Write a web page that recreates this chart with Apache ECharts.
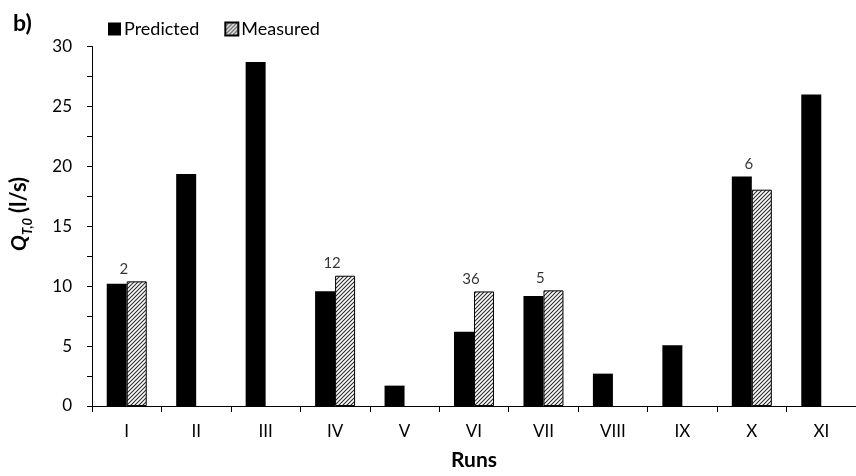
<!DOCTYPE html>
<html>
<head>
<meta charset="utf-8">
<script src="https://cdn.jsdelivr.net/npm/echarts@6/dist/echarts.min.js"></script>
<style>
html,body{margin:0;padding:0;background:#fff;}
#chart{width:856px;height:476px;}
</style>
</head>
<body>
<div id="chart"></div>
<script>
var categories = ['I','II','III','IV','V','VI','VII','VIII','IX','X','XI'];
var predicted = [10.2, 19.35, 28.7, 9.57, 1.7, 6.2, 9.18, 2.7, 5.07, 19.15, 26.0];
var measured = [10.4, null, null, 10.87, null, 9.56, 9.65, null, null, 18.05, null];
var annotations = ['2', '', '', '12', '', '36', '5', '', '', '6', ''];
var yTicks = [0, 5, 10, 15, 20, 25, 30];

var FONT = 'Lato, "Open Sans", sans-serif';

function hatch() {
  var s = 4;
  var c = document.createElement('canvas');
  c.width = s; c.height = s;
  var g = c.getContext('2d');
  g.fillStyle = '#ffffff';
  g.fillRect(0, 0, s, s);
  g.strokeStyle = '#2e2e2e';
  g.lineWidth = 1.15;
  g.beginPath();
  g.moveTo(0, s); g.lineTo(s, 0);
  g.moveTo(-1, 1); g.lineTo(1, -1);
  g.moveTo(s - 1, s + 1); g.lineTo(s + 1, s - 1);
  g.stroke();
  return c;
}

var labelPoints = annotations.map(function (t, i) {
  if (!t) return null;
  var m = measured[i] == null ? predicted[i] : Math.max(predicted[i], measured[i]);
  return [categories[i], m];
});

var chart = echarts.init(document.getElementById('chart'), null, {renderer: 'canvas'});
chart.setOption({
  animation: false,
  textStyle: {fontFamily: FONT, color: '#000'},
  grid: {left: 92, right: -6, top: 46.5, bottom: 69.5, containLabel: false},
  legend: {
    data: ['Predicted', 'Measured'],
    left: 103, top: 15,
    icon: 'rect',
    itemWidth: 13, itemHeight: 13, itemGap: 25,
    textStyle: {fontFamily: FONT, fontSize: 18, color: '#000', padding: [0, 0, 0, -2]},
    selectedMode: false
  },
  xAxis: {
    type: 'category',
    data: categories,
    boundaryGap: true,
    name: 'Runs',
    nameLocation: 'middle',
    nameGap: 44,
    nameTextStyle: {fontFamily: FONT, fontSize: 21, fontWeight: 'bold', color: '#000'},
    axisLine: {lineStyle: {color: '#000', width: 1}},
    axisTick: {show: true, length: 6, interval: 0, lineStyle: {color: '#000'}},
    axisLabel: {fontFamily: FONT, fontSize: 17, color: '#000', margin: 17, interval: 0}
  },
  yAxis: {
    type: 'value',
    min: yTicks[0], max: yTicks[yTicks.length - 1], interval: 5,
    axisLine: {show: true, lineStyle: {color: '#000', width: 1}},
    axisTick: {show: true, length: 5, lineStyle: {color: '#000'}},
    minorTick: {show: true, splitNumber: 2, length: 5, lineStyle: {color: '#000'}},
    splitLine: {show: false},
    axisLabel: {fontFamily: FONT, fontSize: 17, color: '#000', margin: 20}
  },
  series: [
    {
      name: 'Predicted', type: 'bar', data: predicted,
      barWidth: 20, barGap: '0%',
      itemStyle: {color: '#000', borderColor: '#000', borderWidth: 0}
    },
    {
      name: 'Measured', type: 'bar', data: measured,
      barWidth: 20, barGap: '0%',
      itemStyle: {color: {image: hatch(), repeat: 'repeat'}, borderColor: '#000', borderWidth: 1}
    },
    {
      name: 'labels', type: 'scatter', data: labelPoints,
      symbolSize: 0, silent: true,
      label: {
        show: true, position: 'top', distance: 5, offset: [-3, 0],
        fontFamily: FONT, fontSize: 15, color: '#000',
        formatter: function (p) { return annotations[p.dataIndex]; }
      }
    }
  ],
  graphic: [
    {type: 'text', left: 13, top: 12, style: {text: 'b)', fontFamily: FONT, fontSize: 23, fontWeight: 'bold', fill: '#000'}},
    {
      type: 'group', x: 30, y: 251, rotation: Math.PI / 2,
      children: [
        {type: 'text', x: 0, y: 0, style: {text: 'Q', fontFamily: FONT, fontSize: 21, fontWeight: 'bold', fontStyle: 'italic', fill: '#000', textVerticalAlign: 'bottom'}},
        {type: 'text', x: 16, y: 4, style: {text: 'T,0', fontFamily: FONT, fontSize: 13, fontWeight: 'bold', fontStyle: 'italic', fill: '#000', textVerticalAlign: 'bottom'}},
        {type: 'text', x: 38, y: 0, style: {text: '(l/s)', fontFamily: FONT, fontSize: 22, fontWeight: 'bold', fill: '#000', textVerticalAlign: 'bottom'}}
      ]
    }
  ]
});
</script>
</body>
</html>
